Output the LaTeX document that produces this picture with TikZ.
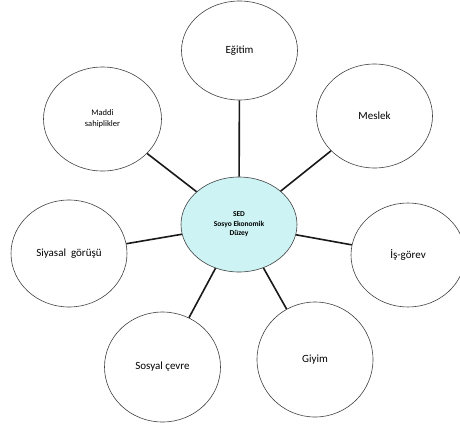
\documentclass[tikz,border=0pt]{standalone}
\usepackage{fontspec}
\setmainfont{Carlito}
\usepackage{xcolor}
\usetikzlibrary{shapes.geometric}
\definecolor{sedfill}{HTML}{CDF3F4}
\tikzset{
  bubble/.style ={ellipse,draw=black!75,line width=0.6pt,minimum width=116pt,minimum height=104pt,inner sep=0pt,align=center,font=\fontsize{11}{13}\selectfont},
  core/.style   ={bubble,fill=sedfill,minimum width=116pt,minimum height=95pt,font=\fontsize{7.5}{9.5}\selectfont\bfseries},
  spoke/.style  ={line width=1.6pt,black!90},
}
\begin{document}
\begin{tikzpicture}[x=1pt,y=-1pt]
  \useasboundingbox (0,0) rectangle (460,423);
  % centre
  \node[core] (sed) at (239,224.5) {SED\\Sosyo Ekonomik\\Düzey};
  % surrounding factors
  \node[bubble,minimum height=99pt] (egitim) at (239.5,50.5) {Eğitim};
  \node[bubble] (meslek) at (374.5,116) {Meslek};
  \node[bubble,minimum width=114pt] (isgorev) at (408,255) {İş-görev};
  \node[bubble,minimum height=115pt] (giyim) at (315,359.5) {Giyim};
  \node[bubble,minimum height=110pt] (sosyal) at (162.5,367) {Sosyal çevre};
  \node[bubble,minimum height=107pt] (siyasal) at (69,253.5) {Siyasal\ \ görüşü};
  \node[bubble,minimum width=118pt,font=\fontsize{8.5}{11}\selectfont] (maddi) at (102.5,119) {Maddi\\sahiplikler};
  % spokes
  \foreach \n in {egitim,meslek,isgorev,giyim,sosyal,siyasal,maddi}
    \draw[spoke] (sed) -- (\n);
\end{tikzpicture}
\end{document}
